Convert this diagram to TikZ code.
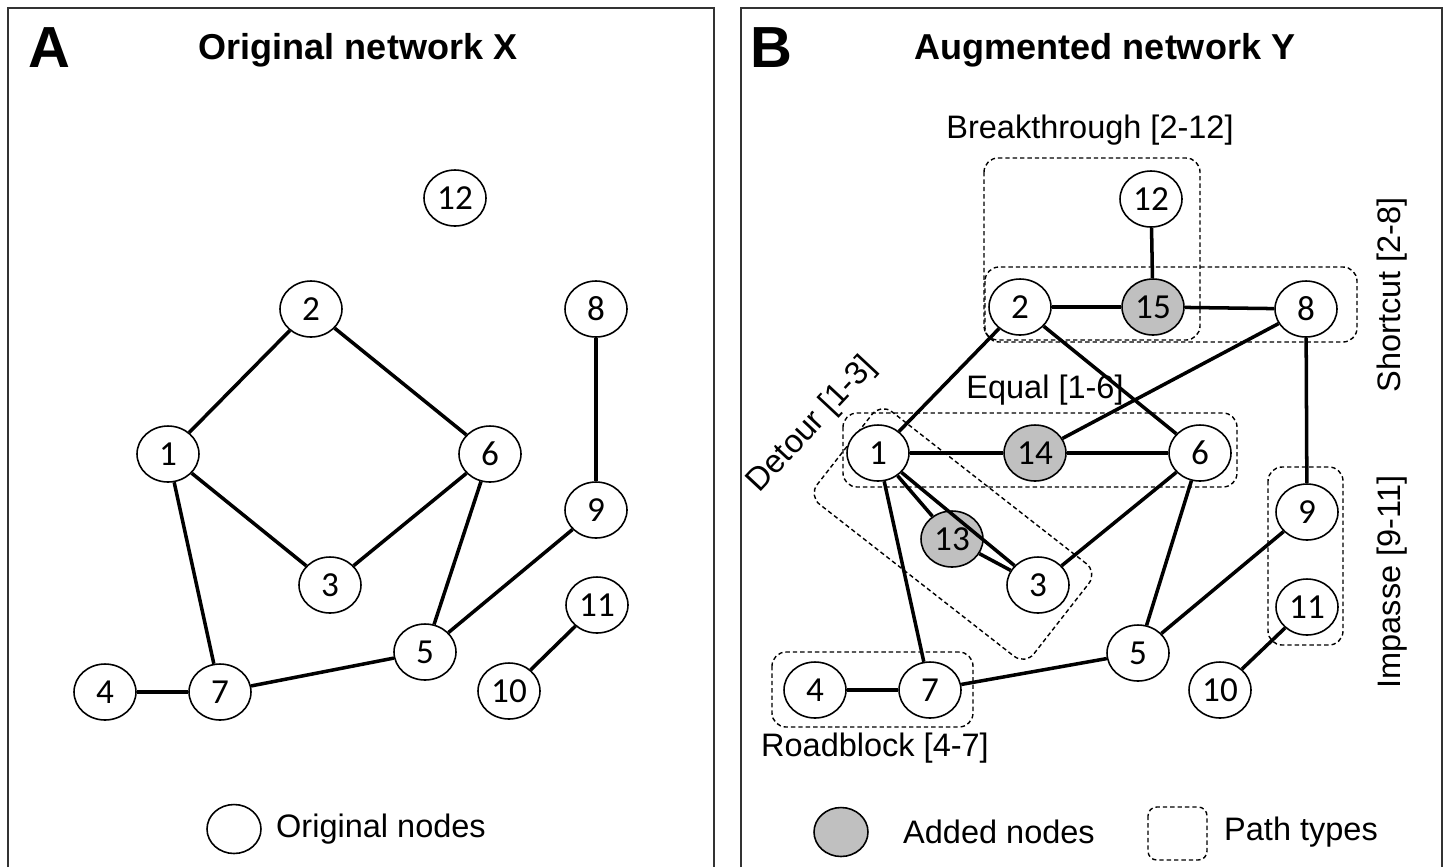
\documentclass[tikz,border=0pt]{standalone}
\usepackage{fontspec}
\setmainfont{Liberation Sans}
\newfontfamily\numfont{Carlito}
\usetikzlibrary{shapes.geometric}
\definecolor{addgray}{RGB}{192,192,192}

\begin{document}
\begin{tikzpicture}[x=0.02cm,y=-0.02cm]
\tikzset{font=\fontsize{18.5}{22}\selectfont}
\tikzset{netnode/.style={ellipse, draw, line width=0.9pt, fill=white, minimum width=1.24cm, minimum height=1.12cm, inner sep=0pt, font=\numfont\fontsize{20}{24}\selectfont}}
\tikzset{addnode/.style={netnode, fill=addgray}}
\tikzset{legendnode/.style={netnode, minimum width=1.08cm, minimum height=0.98cm}}
\tikzset{netedge/.style={draw, line width=2pt}}
\tikzset{pathbox/.style={draw, line width=0.8pt, dash pattern=on 2.5pt off 1.7pt, rounded corners=8pt}}
\tikzset{panel/.style={draw=black!80, line width=1.1pt}}
\tikzset{letter/.style={font=\bfseries\fontsize{33}{36}\selectfont}}
\tikzset{paneltitle/.style={font=\bfseries\fontsize{20.5}{24}\selectfont}}
\useasboundingbox (0,0) rectangle (1450,867);

% panel A
\draw[panel] (8,867) -- (8,8) -- (714,8) -- (714,867);
\node[letter] (lettera) at (49,48) {A};
\node[paneltitle] (titlea) at (358,50) {Original network X};
\node[netnode] (a12) at (455,198) {12};
\node[netnode] (a2) at (311,309) {2};
\node[netnode] (a8) at (596,309) {8};
\node[netnode] (a1) at (168,454) {1};
\node[netnode] (a6) at (490,454) {6};
\node[netnode] (a9) at (596,510) {9};
\node[netnode] (a3) at (330,585) {3};
\node[netnode] (a11) at (597,605) {11};
\node[netnode] (a5) at (425,652) {5};
\node[netnode] (a4) at (105,692) {4};
\node[netnode] (a7) at (220,692) {7};
\node[netnode] (a10) at (509,691) {10};
\foreach \u/\v in {1/2, 2/6, 1/3, 3/6, 6/5, 1/7, 4/7, 7/5, 5/9, 9/8, 10/11}
  \path[netedge] (a\u) -- (a\v);
\node[legendnode] (keyorig) at (234,829) {};
\node[anchor=west] (keyorigtext) at (270,829) {Original nodes};

% panel B
\draw[panel] (741,867) -- (741,8) -- (1442,8) -- (1442,867);
\node[letter] (letterb) at (771,48) {B};
\node[paneltitle] (titleb) at (1105,50) {Augmented network Y};
\draw[pathbox] (984,158) rectangle (1200,340);
\draw[pathbox] (985,267) rectangle (1357,342);
\draw[pathbox] (843,413) rectangle (1237,487);
\draw[pathbox] (1268,467) rectangle (1343,645);
\draw[pathbox] (772,652) rectangle (973,727);
\node[pathbox, rotate=-38, minimum width=5.5cm, minimum height=2.35cm] (detourbox) at (953,534) {};
\node (breaklabel) at (1090,130) {Breakthrough [2-12]};
\node (equallabel) at (1045,390) {Equal [1-6]};
\node[rotate=47] (detourlabel) at (812,425) {Detour [1-3]};
\node[rotate=90] (shortlabel) at (1392,295) {Shortcut [2-8]};
\node[rotate=90] (impasselabel) at (1392,582) {Impasse [9-11]};
\node (roadlabel) at (875,748) {Roadblock [4-7]};
\node[netnode] (b12) at (1151,199) {12};
\node[netnode] (b2) at (1020,307) {2};
\node[addnode] (b15) at (1153,307) {15};
\node[netnode] (b8) at (1306,309) {8};
\node[netnode] (b1) at (878,453) {1};
\node[addnode] (b14) at (1035,453) {14};
\node[netnode] (b6) at (1200,453) {6};
\node[addnode] (b13) at (952,539) {13};
\node[netnode] (b9) at (1307,512) {9};
\node[netnode] (b3) at (1038,585) {3};
\node[netnode] (b11) at (1307,607) {11};
\node[netnode] (b5) at (1138,653) {5};
\node[netnode] (b4) at (815,690) {4};
\node[netnode] (b7) at (930,690) {7};
\node[netnode] (b10) at (1220,690) {10};
\foreach \u/\v in {2/15, 15/8, 12/15, 2/1, 2/6, 1/14, 14/6, 14/8, 1/13, 13/3, 1/3, 3/6, 6/5, 1/7, 4/7, 7/5, 5/9, 8/9, 10/11}
  \path[netedge] (b\u) -- (b\v);
\node[legendnode, fill=addgray] (keyadded) at (841,832) {};
\node[anchor=west] (keyaddedtext) at (897,832) {Added nodes};
\draw[pathbox, rounded corners=5pt] (1148,807) rectangle (1207,860);
\node[anchor=west] (keypathtext) at (1218,832) {Path types};
\end{tikzpicture}
\end{document}
